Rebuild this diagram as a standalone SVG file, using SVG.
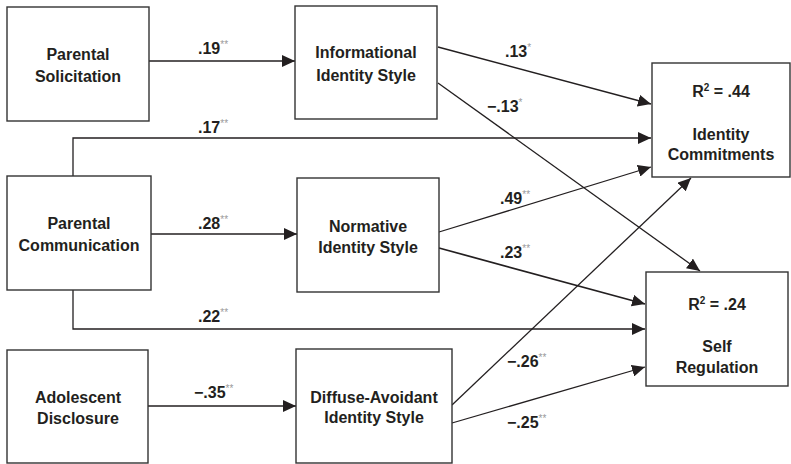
<svg xmlns="http://www.w3.org/2000/svg" width="791" height="464" viewBox="0 0 791 464">
<defs>
<marker id="ah" markerUnits="userSpaceOnUse" markerWidth="14" markerHeight="12" refX="13" refY="6" orient="auto">
<path d="M0,0 L13,6 L0,12 Z" fill="#231f20"/>
</marker>
<style>
.box{fill:#fff;stroke:#333;stroke-width:1.4}
.t{font-family:"Liberation Sans",Arial,sans-serif;font-weight:bold;font-size:16px;fill:#231f20;text-anchor:middle}
.l{font-family:"Liberation Sans",Arial,sans-serif;font-weight:bold;font-size:16px;fill:#231f20}
.s{font-size:10px;fill:#9a9a9a;font-weight:normal}
.c{fill:none;stroke:#231f20;stroke-width:1.3;marker-end:url(#ah)}
</style>
</defs>
<rect width="791" height="464" fill="#fff"/>
<g id="connectors">
<path class="c" d="M149,61 H295"/>
<path class="c" d="M73,176 V138 H651"/>
<path class="c" d="M151,234 H297"/>
<path class="c" d="M73,290 V329 H645"/>
<path class="c" d="M148,406 H296"/>
<path class="c" d="M438,47 L651,104"/>
<path class="c" d="M438,83 L700,271"/>
<path class="c" d="M439,232 L651,167"/>
<path class="c" style="stroke-width:1.7" d="M439,248 L645,304"/>
<path class="c" d="M452,405 L691,178"/>
<path class="c" d="M452,423 L645,367"/>
<text class="l" x="198" y="54">.19<tspan class="s" dy="-6">**</tspan></text>
<text class="l" x="198" y="133">.17<tspan class="s" dy="-6">**</tspan></text>
<text class="l" x="198" y="229">.28<tspan class="s" dy="-6">**</tspan></text>
<text class="l" x="198" y="322">.22<tspan class="s" dy="-6">**</tspan></text>
<text class="l" x="194" y="398">−.35<tspan class="s" dy="-6">**</tspan></text>
<text class="l" x="505" y="57">.13<tspan class="s" dy="-6">*</tspan></text>
<text class="l" x="487" y="112">−.13<tspan class="s" dy="-6">*</tspan></text>
<text class="l" x="500" y="204">.49<tspan class="s" dy="-6">**</tspan></text>
<text class="l" x="500" y="258">.23<tspan class="s" dy="-6">**</tspan></text>
<text class="l" x="507" y="367">−.26<tspan class="s" dy="-6">**</tspan></text>
<text class="l" x="507" y="428">−.25<tspan class="s" dy="-6">**</tspan></text>
</g>
<g id="parental-solicitation">
<rect class="box" x="7" y="7" width="142" height="114"/>
<text class="t" x="78" y="60">Parental</text>
<text class="t" x="78" y="82">Solicitation</text>
</g>
<g id="informational-style">
<rect class="box" x="295" y="6" width="142" height="113"/>
<text class="t" x="366" y="58">Informational</text>
<text class="t" x="366" y="81">Identity Style</text>
</g>
<g id="identity-commitments">
<rect class="box" x="652" y="63" width="138" height="114"/>
<text class="t" x="721" y="97">R<tspan font-size="10" dy="-6">2</tspan><tspan dy="6"> = .44</tspan></text>
<text class="t" x="721" y="140">Identity</text>
<text class="t" x="721" y="160">Commitments</text>
</g>
<g id="parental-communication">
<rect class="box" x="7" y="176" width="144" height="114"/>
<text class="t" x="79" y="229">Parental</text>
<text class="t" x="79" y="251">Communication</text>
</g>
<g id="normative-style">
<rect class="box" x="297" y="178" width="142" height="114"/>
<text class="t" x="368" y="232">Normative</text>
<text class="t" x="368" y="253">Identity Style</text>
</g>
<g id="self-regulation">
<rect class="box" x="646" y="272" width="142" height="114"/>
<text class="t" x="717" y="310">R<tspan font-size="10" dy="-6">2</tspan><tspan dy="6"> = .24</tspan></text>
<text class="t" x="717" y="352">Self</text>
<text class="t" x="717" y="373">Regulation</text>
</g>
<g id="adolescent-disclosure">
<rect class="box" x="7" y="350" width="141" height="113"/>
<text class="t" x="78" y="403">Adolescent</text>
<text class="t" x="78" y="424">Disclosure</text>
</g>
<g id="diffuse-avoidant-style">
<rect class="box" x="296" y="349" width="156" height="114"/>
<text class="t" x="374" y="403">Diffuse-Avoidant</text>
<text class="t" x="374" y="423">Identity Style</text>
</g>
</svg>
